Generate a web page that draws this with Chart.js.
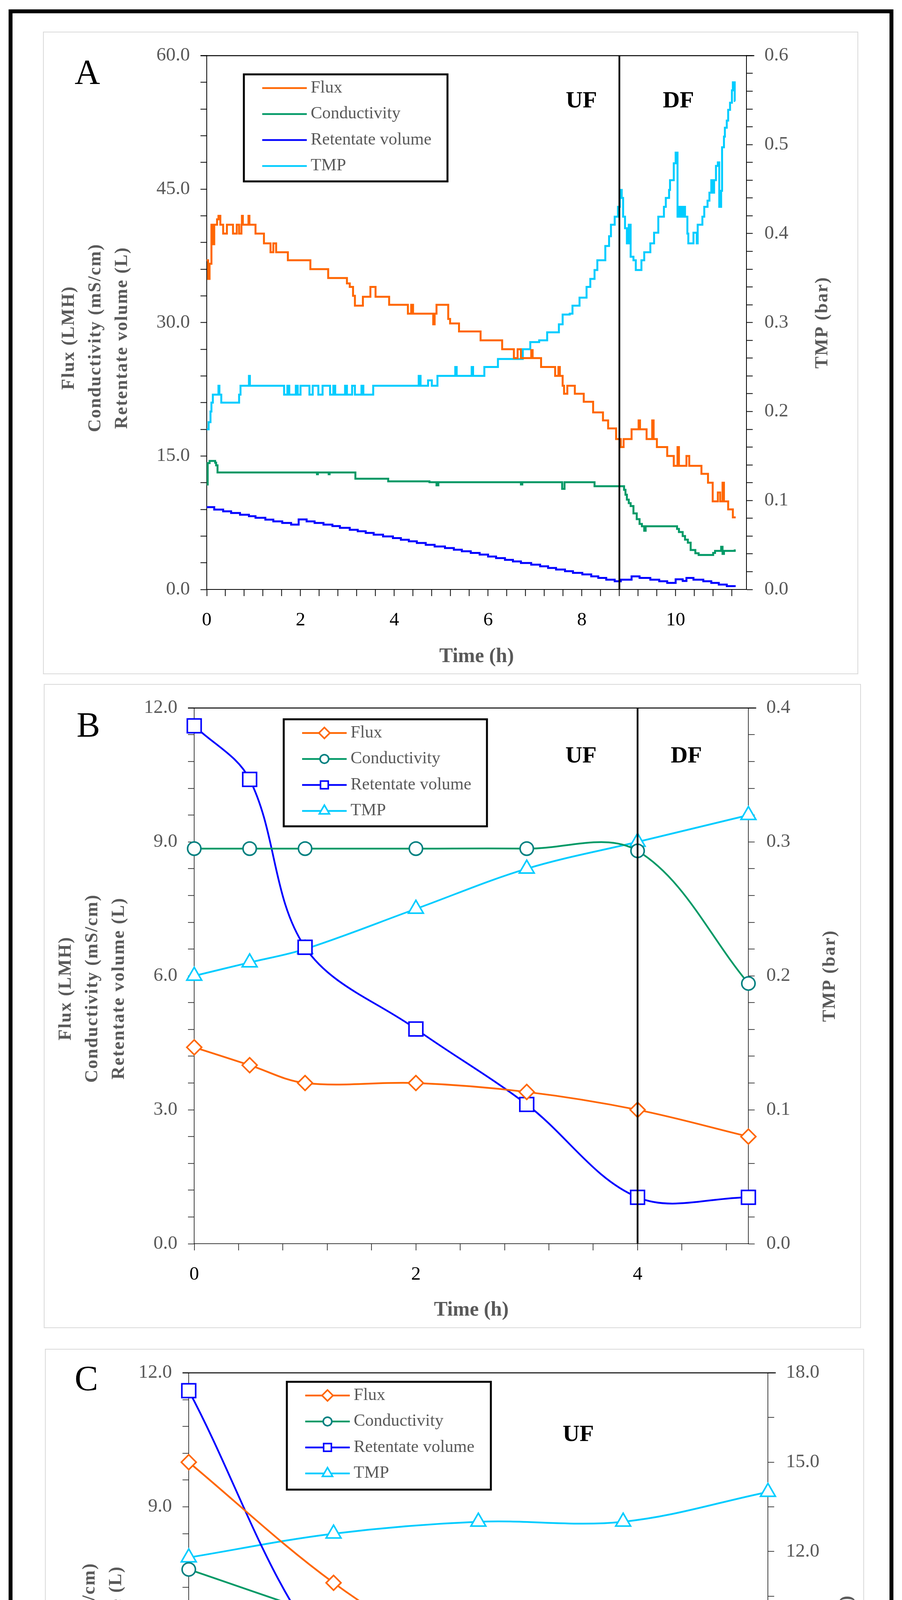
<!DOCTYPE html>
<html>
<head>
<meta charset="utf-8">
<title>Flux, conductivity, retentate volume and TMP</title>
<script src="https://cdn.jsdelivr.net/npm/chart.js@4.4.0/dist/chart.umd.min.js"></script>
<style>
  body { margin:0; background:#fff; width:2308px; height:5133px; position:relative; overflow:hidden; }
  #frame { position:absolute; left:22px; top:24px; width:2264px; height:5083px; border:10px solid #000; box-sizing:border-box; }
  .panel { position:absolute; border:2px solid #d9d9d9; box-sizing:border-box; background:#fff; }
  .panel canvas { display:block; }
</style>
</head>
<body>
<div id="frame"></div>
<div class="panel" style="left:110px;top:81px;width:2086px;height:1645px"><canvas id="chartA" width="2082" height="1641"></canvas></div>
<div class="panel" style="left:112px;top:1751px;width:2091px;height:1649px"><canvas id="chartB" width="2087" height="1645"></canvas></div>
<div class="panel" style="left:115px;top:3453px;width:2096px;height:1637px"><canvas id="chartC" width="2092" height="1633"></canvas></div>
<script>
// ---- series names (same in all three panels)
const seriesNames = ['Flux', 'Conductivity', 'Retentate volume', 'TMP'];

// ---- panel A : logged run, UF then DF (step data)
const fluxTimeA = [0, 0.03, 0.06, 0.10, 0.14, 0.16, 0.22, 0.25, 0.29, 0.35, 0.43, 0.56, 0.64, 0.69, 0.74, 0.75, 0.77, 0.89, 0.91, 1.04,
  1.22, 1.36, 1.42, 1.48, 1.73, 2.21, 2.59, 2.99, 3.05, 3.12, 3.16, 3.33, 3.49, 3.6, 3.89, 4.29, 4.36, 4.4, 4.83, 4.86,
  4.9, 5.15, 5.19, 5.38, 5.84, 6.30, 6.55, 6.63, 6.7, 6.92, 6.95, 7.13, 7.43, 7.5, 7.53, 7.59, 7.62, 7.69, 7.85, 8.04,
  8.24, 8.45, 8.56, 8.73, 8.83, 8.89, 9.06, 9.21, 9.24, 9.38, 9.5, 9.53, 9.6, 9.82, 9.96, 10.04, 10.07, 10.23, 10.29, 10.55,
  10.69, 10.79, 10.9, 10.95, 11.0, 11.03, 11.12, 11.22, 11.28];
const fluxA = [37.0, 34.9, 36.6, 41.0, 38.8, 41.0, 41.6, 42.0, 41.0, 40.0, 41.0, 40.0, 41.0, 40.0, 41.0, 42.0, 41.0, 42.0, 41.0, 40.0,
  38.9, 37.9, 38.9, 37.9, 37.0, 36.0, 35.0, 34.4, 34.0, 33.0, 31.9, 32.9, 34.0, 32.9, 32.0, 31.0, 32.0, 31.0, 29.8, 31.0,
  32.0, 30.4, 29.9, 29.0, 28.0, 27.0, 26.0, 27.0, 26.0, 26.9, 26.0, 25.0, 24.0, 25.0, 24.0, 22.9, 22.0, 22.9, 22.0, 21.1,
  19.9, 19.0, 18.1, 16.9, 16.0, 16.9, 18.0, 19.0, 18.0, 16.9, 19.0, 16.9, 16.0, 15.0, 13.9, 16.0, 13.9, 15.0, 13.9, 13.0,
  12.0, 9.9, 10.9, 9.9, 12.0, 9.9, 9.0, 8.1, 8.1];

const condTimeA = [0, 0.02, 0.06, 0.18, 0.2, 0.23, 2.35, 2.37, 2.6, 2.62, 3.17, 3.87, 4.75, 4.9, 4.94, 6.7, 6.73, 7.58, 7.63, 8.27,
  8.9, 8.93, 8.96, 9.0, 9.04, 9.1, 9.17, 9.23, 9.28, 9.33, 9.36, 10.03, 10.07, 10.15, 10.2, 10.26, 10.32, 10.42, 10.49, 10.8,
  10.84, 10.97, 11.0, 11.03, 11.26];
const condA = [11.8, 14.2, 14.45, 14.25, 13.95, 13.15, 12.95, 13.15, 12.95, 13.15, 12.45, 12.15, 12.05, 11.7, 12.05, 11.8, 12.05, 11.3, 12.05, 11.6,
  11.2, 10.65, 10.1, 9.7, 9.37, 8.55, 7.9, 7.36, 7.1, 6.6, 7.1, 6.8, 6.45, 6.0, 5.6, 5.26, 4.43, 4.07, 3.88, 4.1,
  4.34, 4.8, 4.0, 4.34, 4.5];

const volTimeA = [0, 0.16, 0.35, 0.52, 0.71, 0.9, 1.04, 1.25, 1.42, 1.61, 1.8, 1.96, 2.13, 2.3, 2.49, 2.68, 2.84, 3.05, 3.22, 3.39,
  3.56, 3.76, 3.97, 4.14, 4.31, 4.48, 4.67, 4.86, 5.08, 5.27, 5.44, 5.63, 5.82, 6.0, 6.17, 6.36, 6.53, 6.7, 6.92, 7.11,
  7.28, 7.45, 7.64, 7.81, 8.01, 8.2, 8.35, 8.52, 8.7, 8.83, 9.06, 9.23, 9.46, 9.65, 9.82, 10.0, 10.15, 10.23, 10.38, 10.59,
  10.76, 10.92, 11.09, 11.28];
const volA = [9.25, 8.98, 8.78, 8.59, 8.40, 8.23, 8.06, 7.85, 7.65, 7.48, 7.29, 7.87, 7.65, 7.48, 7.29, 7.12, 6.93, 6.71, 6.54, 6.35,
  6.16, 5.96, 5.77, 5.59, 5.41, 5.23, 5.02, 4.83, 4.65, 4.47, 4.29, 4.1, 3.92, 3.7, 3.52, 3.33, 3.15, 2.97, 2.79, 2.6,
  2.42, 2.24, 2.05, 1.87, 1.69, 1.47, 1.29, 1.1, 0.92, 1.1, 1.47, 1.29, 1.1, 0.92, 0.74, 1.14, 0.96, 1.29, 1.1, 0.92,
  0.74, 0.55, 0.37, 0.37];

const tmpTimeA = [0, 0.04, 0.08, 0.10, 0.13, 0.25, 0.27, 0.31, 0.69, 0.72, 0.9, 0.92, 1.65, 1.72, 1.76, 1.9, 1.94, 2.0, 2.19, 2.26,
  2.38, 2.47, 2.63, 2.7, 2.74, 2.95, 2.99, 3.1, 3.16, 3.3, 3.34, 3.55, 4.52, 4.56, 4.72, 4.8, 4.92, 5.3, 5.33, 5.65,
  5.68, 5.92, 6.21, 6.74, 6.9, 7.09, 7.26, 7.51, 7.59, 7.74, 7.8, 7.95, 8.1, 8.18, 8.27, 8.33, 8.5, 8.58, 8.62, 8.7,
  8.77, 8.81, 8.85, 8.88, 8.92, 8.96, 9.0, 9.04, 9.1, 9.15, 9.27, 9.33, 9.46, 9.54, 9.63, 9.75, 9.79, 9.86, 9.88, 9.96,
  10.0, 10.04, 10.08, 10.12, 10.16, 10.2, 10.25, 10.27, 10.38, 10.45, 10.47, 10.57, 10.61, 10.68, 10.72, 10.76, 10.8, 10.82, 10.86, 10.9,
  10.93, 10.97, 10.99, 11.03, 11.05, 11.09, 11.12, 11.16, 11.2, 11.22, 11.26, 11.27];
const tmpA = [0.180, 0.188, 0.200, 0.210, 0.219, 0.229, 0.219, 0.210, 0.219, 0.229, 0.240, 0.229, 0.219, 0.229, 0.219, 0.229, 0.219, 0.229, 0.219, 0.229,
  0.219, 0.229, 0.219, 0.229, 0.219, 0.229, 0.219, 0.229, 0.219, 0.229, 0.219, 0.229, 0.240, 0.229, 0.235, 0.229, 0.240, 0.250, 0.240, 0.250,
  0.240, 0.250, 0.259, 0.270, 0.278, 0.280, 0.289, 0.298, 0.309, 0.310, 0.319, 0.328, 0.340, 0.349, 0.359, 0.370, 0.386, 0.397, 0.410, 0.419,
  0.430, 0.449, 0.440, 0.419, 0.406, 0.389, 0.410, 0.374, 0.370, 0.359, 0.370, 0.379, 0.389, 0.401, 0.419, 0.430, 0.440, 0.449, 0.460, 0.479,
  0.491, 0.419, 0.430, 0.419, 0.430, 0.419, 0.400, 0.389, 0.401, 0.389, 0.410, 0.419, 0.430, 0.437, 0.446, 0.460, 0.446, 0.460, 0.476, 0.480,
  0.430, 0.448, 0.497, 0.509, 0.519, 0.527, 0.539, 0.547, 0.561, 0.570, 0.549, 0.549];
const switchTimeA = 8.8;

const xLabelsA = [0, 2, 4, 6, 8, 10];
const yLabelsA = [0, 15, 30, 45, 60];
const y2LabelsA = [0, 0.1, 0.2, 0.3, 0.4, 0.5, 0.6];

// ---- panel B : sampled points, UF then DF
const timeB = [0, 0.5, 1, 2, 3, 4, 5];
const fluxB = [4.4, 4.0, 3.6, 3.6, 3.4, 3.0, 2.4];
const condB = [8.85, 8.85, 8.85, 8.85, 8.85, 8.8, 5.83];
const volB = [11.6, 10.4, 6.64, 4.81, 3.12, 1.04, 1.04];
const tmpB = [0.20, 0.21, 0.22, 0.25, 0.28, 0.30, 0.32];
const switchTimeB = 4;

const xLabelsB = [0, 2, 4];
const yLabelsB = [0, 3, 6, 9, 12];
const y2LabelsB = [0, 0.1, 0.2, 0.3, 0.4];

// ---- panel C : sampled points, UF only
const timeC = [0, 1, 2, 3, 4];
const fluxC = [10.0, 7.3, 5.25, 3.3, 2.3];
const condC = [7.6, 6.5, 5.5, 5.2, 4.0];
const volC = [11.6, 5.5, 3.8, 3.2, 2.6];
const tmpC = [11.8, 12.6, 13.0, 13.0, 14.0];

const xLabelsC = [0, 2, 4];
const yLabelsC = [0, 3, 6, 9, 12];
const y2LabelsC = [0, 3, 6, 9, 12, 15, 18];

// ---- look
const SERIF = "'Liberation Serif', 'Times New Roman', serif";
const GREY = '#595959';
const lineColors = ['#FF6600', '#009966', '#0000FF', '#00CCFF'];
const markerColors = ['#FF6600', '#008080', '#0000FF', '#00CCFF'];
const markerStyles = ['rectRot', 'circle', 'rect', 'triangle'];
const markerSizes = [19, 17, 25, 22];
const legendMarkerSizes = [14, 11, 14, 15];

function pts(xs, ys) {
  return xs.map((x, i) => ({x: x, y: ys[i]}));
}

function pickLabels(labels, digits) {
  return function(v) {
    return labels.some(l => Math.abs(l - v) < 1e-6) ? Number(v).toFixed(digits) : '';
  };
}

// titles, legend box, panel letter, UF/DF tags, top frame line
const decorPlugin = {
  id: 'decor',
  afterDraw(chart, args, o) {
    const ctx = chart.ctx;
    const a = chart.chartArea;
    const xs = chart.scales.x, ys = chart.scales.y;
    ctx.save();

    ctx.strokeStyle = '#000';
    ctx.lineWidth = o.frameW;
    ctx.beginPath();
    ctx.moveTo(a.left - 16, a.top);
    ctx.lineTo(a.right + 20, a.top);
    ctx.stroke();

    ctx.fillStyle = '#000';
    ctx.font = '90px ' + SERIF;
    ctx.textAlign = 'left';
    ctx.textBaseline = 'alphabetic';
    ctx.fillText(o.letter, o.letterX, a.top + o.letterDy);

    ctx.font = 'bold 60px ' + SERIF;
    ctx.textAlign = 'center';
    o.tags.forEach(t => ctx.fillText(t.text, xs.getPixelForValue(t.x), ys.getPixelForValue(t.y)));

    // axis titles, both read bottom-to-top
    const midY = (a.top + a.bottom) / 2;
    ctx.fillStyle = GREY;
    ctx.font = 'bold 46px ' + SERIF;
    ctx.letterSpacing = '2.5px';
    ctx.textBaseline = 'middle';
    ctx.save();
    ctx.translate(a.left - o.leftTitleOff, midY + o.leftTitleDy);
    ctx.rotate(-Math.PI / 2);
    o.leftTitle.forEach((line, i) => ctx.fillText(line, 0, i * 68));
    ctx.restore();
    ctx.save();
    ctx.translate(a.right + o.rightTitleOff, midY);
    ctx.rotate(-Math.PI / 2);
    ctx.fillText(o.rightTitle, 0, 0);
    ctx.restore();
    ctx.letterSpacing = '0px';

    // legend
    const bx = a.left + o.legend.dx, by = a.top + o.legend.dy;
    ctx.fillStyle = '#fff';
    ctx.fillRect(bx, by, o.legend.w, o.legend.h);
    ctx.strokeStyle = '#000';
    ctx.lineWidth = 5;
    ctx.strokeRect(bx, by, o.legend.w, o.legend.h);
    ctx.font = '44px ' + SERIF;
    ctx.textAlign = 'left';
    ctx.textBaseline = 'middle';
    let row = 0;
    chart.data.datasets.forEach(ds => {
      if (!ds.label) return;
      const y = by + 35 + row * 66.5;
      const x0 = bx + 47;
      ctx.strokeStyle = ds.borderColor;
      ctx.lineWidth = 4.5;
      ctx.beginPath();
      ctx.moveTo(x0, y);
      ctx.lineTo(x0 + 114, y);
      ctx.stroke();
      if (ds.pointRadius > 0) {
        ctx.fillStyle = '#fff';
        ctx.strokeStyle = ds.pointBorderColor;
        ctx.lineWidth = 4;
        Chart.helpers.drawPoint(ctx, {pointStyle: ds.pointStyle, radius: ds.legendRadius, borderWidth: 4, rotation: 0}, x0 + 57, y);
      }
      ctx.fillStyle = GREY;
      ctx.fillText(ds.label, bx + 171, y);
      row++;
    });
    ctx.restore();
  }
};

function makeChart(id, p) {
  const datasets = [];
  if (p.switchAt !== null) {
    datasets.push({
      label: '', data: [{x: p.switchAt, y: 0}, {x: p.switchAt, y: p.yMax}],
      borderColor: '#000', borderWidth: 4.5, pointRadius: 0, yAxisID: 'y', clip: false
    });
  }
  p.series.forEach((s, i) => {
    datasets.push({
      label: seriesNames[i],
      data: pts(s.x, s.y),
      yAxisID: i === 3 ? 'y2' : 'y',
      borderColor: lineColors[i],
      backgroundColor: lineColors[i],
      borderWidth: p.lineW,
      stepped: p.stepped,
      tension: p.stepped ? 0 : 0.35,
      pointRadius: p.markers ? markerSizes[i] : 0,
      pointStyle: markerStyles[i],
      pointBorderColor: markerColors[i],
      pointBackgroundColor: '#fff',
      pointBorderWidth: 4,
      legendRadius: legendMarkerSizes[i],
      clip: false
    });
  });

  const tickFont = {family: SERIF, size: 49};
  return new Chart(document.getElementById(id), {
    type: 'line',
    data: {datasets: datasets},
    plugins: [decorPlugin],
    options: {
      responsive: false,
      animation: false,
      devicePixelRatio: 1,
      layout: {padding: {top: p.padTop, left: 0, right: 0, bottom: 0}},
      plugins: {legend: {display: false}, tooltip: {enabled: false}, decor: p.decor},
      scales: {
        x: {
          type: 'linear', position: 'bottom', min: 0, max: p.xMax,
          ticks: {stepSize: 0.4, includeBounds: false, autoSkip: false, maxRotation: 0, color: '#000', padding: 33,
                  font: tickFont, callback: pickLabels(p.xLabels, 0)},
          grid: {drawOnChartArea: false, tickLength: 17, tickColor: '#000', tickWidth: p.axisW},
          border: {color: '#000', width: p.axisW},
          title: {display: true, text: 'Time (h)', color: GREY, font: {family: SERIF, size: 52, weight: 'bold'},
                  padding: {top: 0, bottom: p.xTitlePad}},
          afterFit: s => { s.height = p.xHeight; }
        },
        y: {
          type: 'linear', position: 'left', min: 0, max: p.yMax,
          ticks: {stepSize: p.yStep, includeBounds: false, autoSkip: false, color: GREY, padding: 27,
                  font: tickFont, callback: pickLabels(p.yLabels, 1)},
          grid: {drawOnChartArea: false, tickLength: 16, tickColor: '#000', tickWidth: p.axisW},
          border: {color: '#000', width: p.axisW},
          afterFit: s => { s.width = p.leftW; }
        },
        y2: {
          type: 'linear', position: 'right', min: 0, max: p.y2Max,
          ticks: {stepSize: p.y2Step, includeBounds: false, autoSkip: false, color: GREY, padding: 30,
                  font: tickFont, callback: pickLabels(p.y2Labels, 1)},
          grid: {drawOnChartArea: false, tickLength: 16, tickColor: '#000', tickWidth: p.axisW},
          border: {color: '#000', width: p.axisW},
          afterFit: s => { s.width = p.rightW; }
        }
      }
    }
  });
}

const leftTitle = ['Flux (LMH)', 'Conductivity (mS/cm)', 'Retentate volume (L)'];

makeChart('chartA', {
  series: [{x: fluxTimeA, y: fluxA}, {x: condTimeA, y: condA}, {x: volTimeA, y: volA}, {x: tmpTimeA, y: tmpA}],
  switchAt: switchTimeA, stepped: true, markers: false, lineW: 5, axisW: 2,
  xMax: 11.51, xLabels: xLabelsA, yMax: 60, yStep: 3, yLabels: yLabelsA, y2Max: 0.6, y2Step: 0.02, y2Labels: y2LabelsA,
  padTop: 46, leftW: 417, rightW: 284, xHeight: 215, xTitlePad: 11,
  decor: {
    letter: 'A', letterX: 79, letterDy: 73, frameW: 2.5,
    tags: [{text: 'UF', x: 7.99, y: 54.2}, {text: 'DF', x: 10.06, y: 54.2}],
    leftTitle: leftTitle, leftTitleOff: 352, leftTitleDy: 39, rightTitle: 'TMP (bar)', rightTitleOff: 195,
    legend: {dx: 95, dy: 48, w: 521, h: 274}
  }
});

makeChart('chartB', {
  series: [{x: timeB, y: fluxB}, {x: timeB, y: condB}, {x: timeB, y: volB}, {x: timeB, y: tmpB}],
  switchAt: switchTimeB, stepped: false, markers: true, lineW: 4.5, axisW: 1.5,
  xMax: 5, xLabels: xLabelsB, yMax: 12, yStep: 0.6, yLabels: yLabelsB, y2Max: 0.4, y2Step: 0.02, y2Labels: y2LabelsB,
  padTop: 46, leftW: 383, rightW: 286, xHeight: 214, xTitlePad: 12,
  decor: {
    letter: 'B', letterX: 82, letterDy: 74, frameW: 2.5,
    tags: [{text: 'UF', x: 3.49, y: 10.78}, {text: 'DF', x: 4.44, y: 10.78}],
    leftTitle: leftTitle, leftTitleOff: 328, leftTitleDy: 32, rightTitle: 'TMP (bar)', rightTitleOff: 209,
    legend: {dx: 229, dy: 29, w: 520, h: 274}
  }
});

makeChart('chartC', {
  series: [{x: timeC, y: fluxC}, {x: timeC, y: condC}, {x: timeC, y: volC}, {x: timeC, y: tmpC}],
  switchAt: null, stepped: false, markers: true, lineW: 4.5, axisW: 1.5,
  xMax: 4, xLabels: xLabelsC, yMax: 12, yStep: 0.6, yLabels: yLabelsC, y2Max: 18, y2Step: 1.5, y2Labels: y2LabelsC,
  padTop: 44, leftW: 366, rightW: 244, xHeight: 201, xTitlePad: 0,
  decor: {
    letter: 'C', letterX: 74, letterDy: 45, frameW: 2.5,
    tags: [{text: 'UF', x: 2.69, y: 10.47}],
    leftTitle: leftTitle, leftTitleOff: 321, leftTitleDy: 41, rightTitle: 'TMP (bar)', rightTitleOff: 202,
    legend: {dx: 251, dy: 23, w: 522, h: 276}
  }
});
</script>
</body>
</html>
